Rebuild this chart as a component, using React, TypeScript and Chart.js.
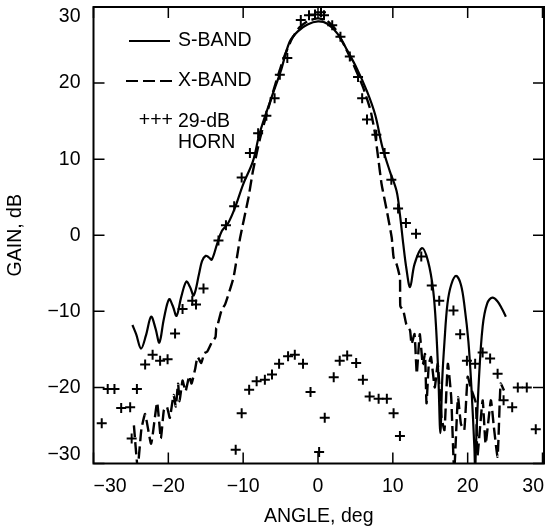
import React, { useEffect, useRef } from "react";
import { Chart, registerables } from "chart.js";

Chart.register(...registerables);

// S-BAND pattern (solid)
const sBandAngle = [
  -24.8, -24.3, -23.65, -23.0, -22.3, -21.7, -21.2, -20.6, -19.9, -19.4, -18.9, -18.3, -17.6, -17.1, -16.6,
  -15.9, -15.5, -15.0, -14.6, -14.2, -13.5, -12.85, -12.0, -11.1, -10.0, -8.7, -7.8, -6.25, -5.0, -3.8,
  -2.7, -1.4, 0, 1.25, 2.6, 3.9, 5.2, 6.55, 7.65, 8.6, 9.6, 10.5, 10.95, 11.4, 11.8, 12.3, 12.9, 13.9,
  14.7, 15.4, 15.8, 16.1, 16.35, 16.6, 16.9, 17.3, 17.8, 18.45, 19.1, 19.6, 20.1, 20.5, 20.9, 21.0, 21.1,
  21.5, 22.0, 22.6, 23.3, 24.0, 24.6, 25.1,
];
const sBandGain = [
  -11.8, -13.0, -14.9, -13.2, -10.7, -12.3, -14.1, -11.0, -8.4, -9.3, -10.6, -8.2, -6.1, -6.8, -7.9,
  -5.1, -3.4, -2.7, -2.9, -3.2, -1.2, 0.55, 1.6, 3.6, 6.7, 9.7, 13.4, 18.0, 21.5, 25.4,
  26.8, 27.7, 28.1, 27.8, 26.5, 24.3, 21.9, 18.9, 15.8, 11.6, 8.4, 5.8, 2.7, -1.2, -4.3, -6.8, -3.8, -1.7,
  -3.4, -7.3, -12.5, -19.0, -26.0, -19.0, -14.0, -9.0, -6.5, -5.35, -6.5, -9.5, -14.0, -20.0, -28.0, -31.0, -28.0,
  -19.0, -12.0, -9.0, -8.2, -8.7, -9.7, -10.7,
];

// X-BAND pattern (dashed)
const xBandAngle = [
  -24.6, -24.1, -23.6, -23.1, -22.3, -21.5, -21.0, -20.6, -20.2, -19.8, -19.3, -19.0, -18.7, -18.5, -18.1,
  -17.7, -17.2, -16.9, -16.4, -16.1, -15.6, -15.2, -14.8, -14.2, -13.7, -13.6, -13.5, -12.9, -12.4, -11.3,
  -10.4, -9.3, -8.7, -7.8, -6.7, -5.5, -4.5, -3.5, -2.5, -1.3, 0, 1.2, 2.4, 3.6, 4.8, 6.0, 7.0, 7.6, 8.0,
  8.5, 9.2, 9.85, 10.1, 10.5, 10.95, 11.0, 11.4, 11.8, 12.3, 12.5, 12.9, 13.2, 13.6, 14.0, 14.3, 14.5, 14.8,
  15.1, 15.6, 16.0, 16.5, 16.9, 17.35, 17.8, 18.2, 18.7, 19.1, 19.55, 20.0, 20.4, 21.1, 21.3, 22.0, 22.4,
  23.1, 23.5, 24.0, 24.4, 24.85,
];
const xBandGain = [
  -25.0, -30.5, -25.5, -23.5, -27.4, -22.0, -26.7, -23.0, -22.5, -24.0, -21.0, -22.5, -19.5, -21.8, -19.1,
  -20.5, -18.5, -19.5, -17.5, -16.0, -16.8, -15.5, -15.3, -14.1, -13.4, -12.2, -12.1, -9.9, -9.05, -5.6,
  -0.3, 4.9, 8.4, 12.5, 16.5, 20.5, 23.5, 25.8, 27.3, 28.2, 28.5, 28.2, 27.0, 24.8, 22.3, 19.5, 16.5, 13.5, 10.5,
  6.7, 3.2, -0.3, -2.9, -3.8, -5.6, -9.3, -9.9, -11.7, -12.5, -14.3, -13.0, -18.2, -13.0, -17.0, -15.6, -22.1, -17.0,
  -16.0, -20.0, -16.9, -23.9, -25.6, -16.9, -21.3, -31.0, -21.3, -24.8, -25.6, -18.6, -20.0, -22.1, -29.1, -21.7, -27.4,
  -21.7, -25.2, -29.1, -19.5, -20.4,
];

// 29-dB HORN measurements (+)
const hornAngle = [
  -28.9, -28.1, -27.2, -26.3, -25.1, -24.9, -24.2, -23.1, -22.1, -21.1, -20.1, -19.1, -18.1, -16.8, -16.3,
  -15.3, -13.3, -12.3, -11.2, -10.2, -9.1, -8.0, -6.9, -5.8, -5.1, -4.1, -2.3, -1.2, -0.4, 0.4, 0.8, 1.9,
  3.0, 4.25, 5.35, 5.9, 6.55, 7.8, 8.9, 9.8, 10.7, 11.75, 13.1, 13.8, 15.2, 16.2, 18.1, 19.0, 19.9, 21.0,
  22.0, 23.0, 24.0, 24.8, 25.95, 26.7, 27.9, 29.1,
];
const hornGain = [
  -24.7, -20.2, -20.2, -22.7, -22.6, -26.7, -20.2, -17.0, -15.7, -16.5, -16.3, -12.9, -9.7, -8.6, -9.1,
  -7.0, -0.7, 1.3, 3.8, 7.6, 10.8, 13.4, 15.7, 18.0, 21.1, 23.3, 28.3, 28.9, 29.0, 29.3, 28.9, 27.6,
  26.1, 23.5, 20.8, 18.0, 15.2, 13.2, 10.8, 7.3, 3.5, 1.6, 0.2, -2.8, -6.6, -8.6, -9.9, -13.0, -16.5, -16.9,
  -15.4, -16.2, -18.2, -21.7, -22.6, -20.0, -20.0, -25.5,
];
const hornLowAngle = [
  -11.0, -10.2, -9.2, -8.2, -7.1, -6.15, -5.2, -4.0, -3.1, -2.0, -1.0, 0.15, 0.9, 2.1, 2.9, 3.9, 5.1, 6.0,
  6.9, 8.1, 9.2, 10.1, 10.95,
];
const hornLowGain = [
  -28.2, -23.4, -20.3, -19.2, -19.0, -18.3, -16.9, -15.9, -15.7, -16.9, -20.6, -28.5, -24.0, -18.65, -16.5,
  -15.8, -16.8, -19.0, -21.2, -21.5, -21.5, -23.4, -26.4,
];

const xTicks = [-30, -20, -10, 0, 10, 20, 30];
const yTicks = [-30, -20, -10, 0, 10, 20, 30];
const xTitle = "ANGLE, deg";
const yTitle = "GAIN, dB";
const legendLabels = ["S-BAND", "X-BAND", "29-dB", "HORN"];

const FONT = "19.5px 'Liberation Sans', Arial, Helvetica, sans-serif";
const fmt = (v: number) => (v < 0 ? "\u2212" + Math.abs(v) : String(v));
const pts = (xs: number[], ys: number[]) => xs.map((x, i) => ({ x, y: ys[i] }));

const framePlugin = {
  id: "frame",
  afterDraw(chart: any) {
    const { ctx, chartArea } = chart;
    const { left, right, top, bottom } = chartArea;
    const xs = chart.scales.x;
    const ys = chart.scales.y;
    ctx.save();
    ctx.strokeStyle = "#000";
    ctx.fillStyle = "#000";
    ctx.lineWidth = 2;
    ctx.strokeRect(left, top, right - left, bottom - top);
    ctx.lineWidth = 1.5;
    const tl = 11;
    ctx.beginPath();
    xTicks.forEach((v) => {
      const p = xs.getPixelForValue(v);
      ctx.moveTo(p, bottom);
      ctx.lineTo(p, bottom - tl);
      ctx.moveTo(p, top);
      ctx.lineTo(p, top + tl);
    });
    yTicks.forEach((v) => {
      const p = ys.getPixelForValue(v);
      ctx.moveTo(left, p);
      ctx.lineTo(left + tl, p);
      ctx.moveTo(right, p);
      ctx.lineTo(right - tl, p);
    });
    ctx.stroke();

    ctx.font = FONT;
    ctx.textBaseline = "middle";
    // x tick labels
    ctx.textAlign = "center";
    xTicks.forEach((v) => {
      const t = fmt(v);
      const w = ctx.measureText(t).width;
      let p = xs.getPixelForValue(v);
      p = Math.max(left + w / 2, Math.min(right - w / 2, p));
      ctx.fillText(t, p, bottom + 23);
    });
    // y tick labels
    ctx.textAlign = "right";
    yTicks.forEach((v) => {
      let p = ys.getPixelForValue(v);
      p = Math.max(top + 9.5, Math.min(bottom - 8.5, p));
      ctx.fillText(fmt(v), left - 13, p);
    });
    // titles
    ctx.textAlign = "center";
    ctx.fillText(xTitle, (left + right) / 2, 517);
    ctx.save();
    ctx.translate(16, (top + bottom) / 2);
    ctx.rotate(-Math.PI / 2);
    ctx.fillText(yTitle, 0, 0);
    ctx.restore();

    // legend
    ctx.textAlign = "left";
    ctx.lineWidth = 2.2;
    ctx.beginPath();
    ctx.moveTo(129, 41);
    ctx.lineTo(170, 41);
    ctx.stroke();
    ctx.fillText(legendLabels[0], 178, 41);
    ctx.setLineDash([12, 5]);
    ctx.beginPath();
    ctx.moveTo(126, 81);
    ctx.lineTo(172, 81);
    ctx.stroke();
    ctx.setLineDash([]);
    ctx.fillText(legendLabels[1], 178, 81);
    ctx.textAlign = "right";
    ctx.fillText("+++", 173, 121);
    ctx.textAlign = "left";
    ctx.fillText(legendLabels[2], 178, 122);
    ctx.fillText(legendLabels[3], 178, 143);
    ctx.restore();
  },
};

export default function App() {
  const ref = useRef<HTMLCanvasElement | null>(null);
  useEffect(() => {
    if (!ref.current) return;
    const chart = new Chart(ref.current, {
      type: "line",
      data: {
        datasets: [
          {
            label: "S-BAND",
            data: pts(sBandAngle, sBandGain),
            borderColor: "#000",
            borderWidth: 2.2,
            pointRadius: 0,
            tension: 0.35,
            fill: false,
          },
          {
            label: "X-BAND",
            data: pts(xBandAngle, xBandGain),
            borderColor: "#000",
            borderWidth: 2.4,
            borderDash: [12, 5],
            pointRadius: 0,
            tension: 0.15,
            fill: false,
          },
          {
            type: "scatter",
            label: "29-dB HORN",
            data: pts(hornAngle, hornGain),
            borderColor: "#000",
            backgroundColor: "#000",
            pointStyle: "cross",
            pointRadius: 5,
            borderWidth: 2,
            showLine: false,
          } as any,
          {
            type: "scatter",
            label: "29-dB HORN (low)",
            data: pts(hornLowAngle, hornLowGain),
            borderColor: "#000",
            backgroundColor: "#000",
            pointStyle: "cross",
            pointRadius: 5,
            borderWidth: 2,
            showLine: false,
          } as any,
        ],
      },
      options: {
        animation: false,
        responsive: false,
        maintainAspectRatio: false,
        layout: { padding: { left: 0, right: 2, top: 5.5, bottom: 0 } },
        plugins: { legend: { display: false }, tooltip: { enabled: false } },
        scales: {
          x: {
            type: "linear",
            min: -30,
            max: 30.2,
            ticks: { display: false },
            grid: { display: false },
            border: { display: false },
            afterFit: (s: any) => {
              s.height = 67.5;
            },
          },
          y: {
            type: "linear",
            min: -30,
            max: 30,
            ticks: { display: false },
            grid: { display: false },
            border: { display: false },
            afterFit: (s: any) => {
              s.width = 93.5;
            },
          },
        },
      },
      plugins: [framePlugin],
    });
    return () => chart.destroy();
  }, []);
  return (
    <div style={{ position: "absolute", left: 0, top: 0, width: 551, height: 531, background: "#fff" }}>
      <canvas ref={ref} width={551} height={531} style={{ display: "block" }} />
    </div>
  );
}
